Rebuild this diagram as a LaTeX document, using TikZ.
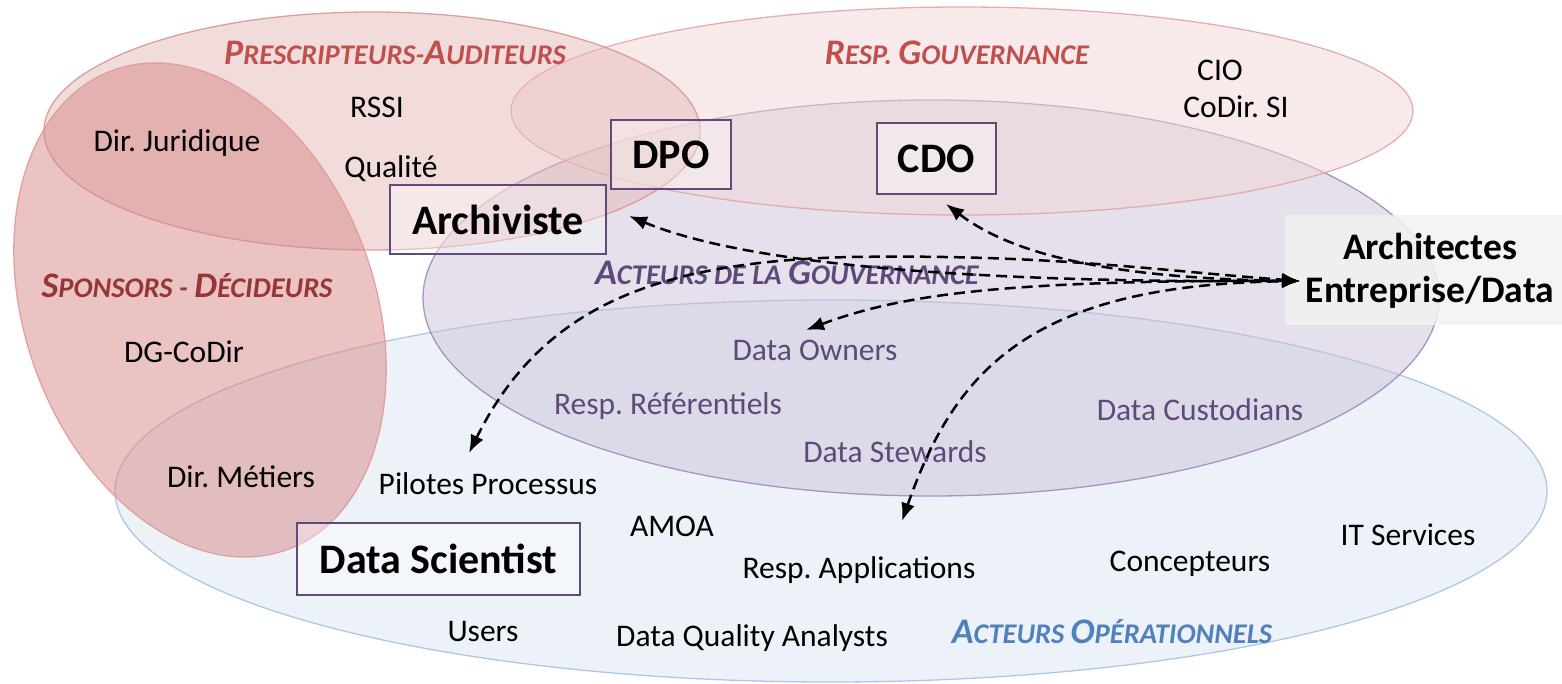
\documentclass[tikz,border=0pt]{standalone}
\usepackage{fontspec}
\setmainfont{Carlito}
\usetikzlibrary{arrows.meta}
\frenchspacing
\definecolor{presfill}{HTML}{E5B9B7}
\definecolor{presline}{HTML}{D99694}
\definecolor{govfill}{HTML}{F1D5D5}
\definecolor{govline}{HTML}{E0A8A7}
\definecolor{spofill}{HTML}{D78888}
\definecolor{spoline}{HTML}{E09A98}
\definecolor{actfill}{HTML}{CBC1D9}
\definecolor{actline}{HTML}{9F8BBE}
\definecolor{opfill}{HTML}{DBE5F3}
\definecolor{opline}{HTML}{A7C2E2}
\definecolor{redtitle}{HTML}{C0504D}
\definecolor{darkred}{HTML}{953735}
\definecolor{purpletext}{HTML}{5F497A}
\definecolor{bluetitle}{HTML}{4F81BD}
\definecolor{boxline}{HTML}{604A7B}
\definecolor{archfill}{HTML}{F2F2F2}
\newcommand{\fsc}[2]{{\fontsize{36}{40}\selectfont #1}{\fontsize{28.5}{34}\selectfont #2}}
\tikzset{
  zone/.style={line width=1.3pt, fill opacity=0.5, draw opacity=0.9},
  lbl/.style={font=\fontsize{31.5}{36}\selectfont, inner sep=0pt, text=black},
  plbl/.style={lbl, text=purpletext},
  ttl/.style={font=\bfseries\itshape\fontsize{28.5}{34}\selectfont, inner sep=0pt},
  rolebox/.style={draw=boxline, line width=1.6pt, fill=white, fill opacity=0.35, text opacity=1, text=black,
    font=\bfseries\fontsize{42}{48}\selectfont, inner sep=0pt},
  arr/.style={line width=2.5pt, dash pattern=on 11pt off 6pt,
    {Latex[length=18pt,width=14pt]}-{Latex[length=18pt,width=14pt]}}
}
\begin{document}
\begin{tikzpicture}[x=1pt,y=-1pt]
\useasboundingbox (0,0) rectangle (1562,684);
% zones
\draw[zone, draw=opline, fill=opfill] (831,491) ellipse [x radius=716, y radius=191];
\draw[zone, draw=actline, fill=actfill] (931,298) ellipse [x radius=508, y radius=198];
\draw[zone, draw=govline, fill=govfill] (962,111) ellipse [x radius=451, y radius=104];
\draw[zone, draw=presline, fill=presfill] (372,131) ellipse [x radius=328, y radius=119];
\draw[zone, draw=spoline, fill=spofill, rotate around={20:(200,310)}] (200,310) ellipse [x radius=175, y radius=255];
% architectes box
\node[fill=archfill, fill opacity=0.85, minimum width=277pt, minimum height=110pt, inner sep=0pt] (arch) at (1423.5,270) {};
\node[align=center, inner sep=0pt, font=\bfseries\fontsize{37.5}{43}\selectfont] (archtxt) at (1430,271) {Architectes\\Entreprise/Data};
% titles
\node[ttl, text=redtitle] (tpres) at (395,53) {\fsc{P}{RESCRIPTEURS-}\fsc{A}{UDITEURS}};
\node[ttl, text=redtitle] (tgov) at (957,53) {\fsc{R}{ESP. }\fsc{G}{OUVERNANCE}};
\node[ttl, text=darkred] (tspo) at (187,286) {\fsc{S}{PONSORS - }\fsc{D}{ÉCIDEURS}};
\node[ttl, text=purpletext] (tact) at (787,273) {\fsc{A}{CTEURS DE LA }\fsc{G}{OUVERNANCE}};
\node[ttl, text=bluetitle] (top) at (1112,632) {\fsc{A}{CTEURS }\fsc{O}{PÉRATIONNELS}};
% boxes
\node[rolebox, minimum width=120pt, minimum height=69pt] (dpo) at (671,154.5) {DPO};
\node[rolebox, minimum width=119pt, minimum height=71pt] (cdo) at (936.5,158.5) {CDO};
\node[rolebox, minimum width=216pt, minimum height=69pt] (archiv) at (498,219.5) {Archiviste};
\node[rolebox, minimum width=283pt, minimum height=72pt] (ds) at (438.5,559) {Data Scientist};
% plain labels
\node[lbl] (rssi) at (377,107) {RSSI};
\node[lbl] (jur) at (177,143) {Dir. Juridique};
\node[lbl] (qual) at (391,169) {Qualité};
\node[lbl] (cio) at (1220,70) {CIO};
\node[lbl] (codir) at (1236,107) {CoDir. SI};
\node[lbl] (dg) at (184,352) {DG-CoDir};
\node[lbl] (met) at (241,477) {Dir. Métiers};
\node[lbl] (pil) at (488,484) {Pilotes Processus};
\node[lbl] (amoa) at (672,526) {AMOA};
\node[lbl] (rapp) at (859,570) {Resp. Applications};
\node[lbl] (conc) at (1190,564) {Concepteurs};
\node[lbl] (its) at (1408,535) {IT Services};
\node[lbl] (users) at (483,632) {Users};
\node[lbl] (dqa) at (752,638) {Data Quality Analysts};
\node[plbl] (down) at (815,350) {Data Owners};
\node[plbl] (rref) at (668,406) {Resp. Référentiels};
\node[plbl] (dcus) at (1200,410) {Data Custodians};
\node[plbl] (dst) at (895,452) {Data Stewards};
% arrow ends
\coordinate (ae) at (1300,281);
\coordinate (tarch) at (629,216);
\coordinate (tcdo) at (946,204);
\coordinate (town) at (806,330);
\coordinate (tpil) at (469,453);
\coordinate (tapp) at (902,521);
\draw[arr] (tarch) .. controls (740,262) and (950,283) .. (ae);
\draw[arr] (tcdo) .. controls (1000,245) and (1080,278) .. (ae);
\draw[arr] (town) .. controls (900,295) and (1000,280) .. (ae);
\draw[arr] (tpil) .. controls (540,310) and (650,262) .. (850,257) .. controls (1050,254) and (1150,270) .. (ae);
\draw[arr] (tapp) .. controls (955,370) and (1030,285) .. (ae);
\end{tikzpicture}
\end{document}
